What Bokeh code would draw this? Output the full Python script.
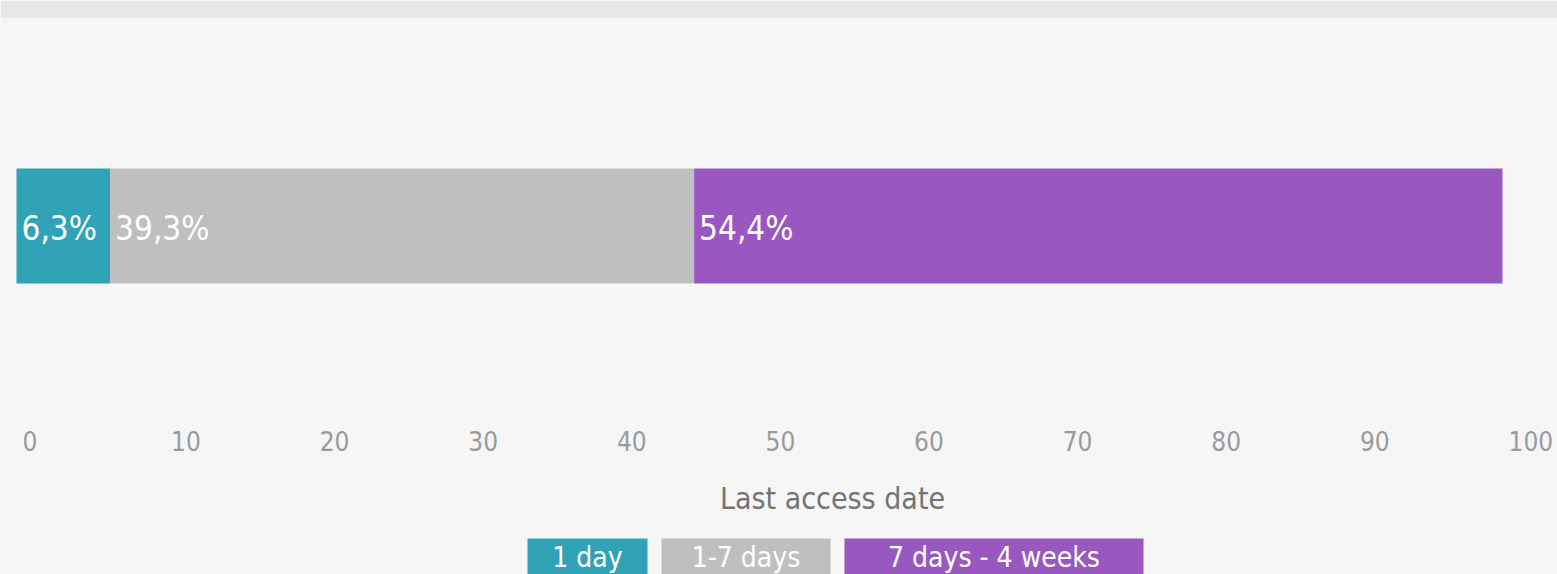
from bokeh.plotting import figure
from bokeh.models import Range1d, ColumnDataSource
from bokeh.core.properties import value
from bokeh.embed import file_html
from bokeh.resources import INLINE

# ---- data ----
categories = ["1 day", "1-7 days", "7 days - 4 weeks"]
shares = [6.3, 39.3, 54.4]
share_labels = ["6,3%", "39,3%", "54,4%"]
colors = ["#31a3b6", "#bfbfbf", "#9858bf"]
tick_values = [0, 10, 20, 30, 40, 50, 60, 70, 80, 90, 100]
tick_labels = ["0", "10", "20", "30", "40", "50", "60", "70", "80", "90", "100"]
axis_title = "Last access date"

# ---- layout ----
W, H = 1557, 574
TOP_BAND = 18
PX0, PX100 = 16.0, 1502.0           # pixel positions of 0 and 100
PPU = (PX100 - PX0) / 100.0
FONT = "DejaVu Sans Condensed, Open Sans"

def xd(px):
    return (px - PX0) / PPU

p = figure(width=W, height=H, output_backend="svg", toolbar_location=None,
           x_range=Range1d(xd(0), xd(W)), y_range=Range1d(H, TOP_BAND),
           min_border_left=0, min_border_right=0, min_border_bottom=0,
           min_border_top=TOP_BAND)
p.axis.visible = False
p.grid.visible = False
p.outline_line_color = None
p.background_fill_color = "#f6f6f6"
p.border_fill_color = "#e7e7e7"

lefts = []
acc = 0.0
for s in shares:
    lefts.append(acc)
    acc += s
rights = [l + s for l, s in zip(lefts, shares)]

src = ColumnDataSource(dict(left=lefts, right=rights, color=colors,
                            label=share_labels, cat=categories))
BAR_TOP, BAR_BOT = 168, 283
p.quad(left="left", right="right", top=BAR_TOP, bottom=BAR_BOT,
       fill_color="color", line_color=None, source=src)
p.text(x="left", y=(BAR_TOP + BAR_BOT) / 2 + 2, text="label", source=src,
       x_offset=5, text_align="left", text_baseline="middle",
       text_color="white", text_font=value(FONT), text_font_size="33px")

# tick labels (left aligned at tick positions)
p.text(x=tick_values, y=[440] * len(tick_values), text=tick_labels,
       x_offset=6, text_align="left", text_baseline="middle",
       text_color="#9a9a9a", text_font=value(FONT), text_font_size="26px")

# axis title
p.text(x=[xd(832)], y=[498], text=[axis_title], text_align="center",
       text_baseline="middle", text_color="#737373",
       text_font=value(FONT), text_font_size="30px")

# legend boxes
box_l = [xd(527), xd(661), xd(844)]
box_r = [xd(647), xd(830), xd(1143)]
lsrc = ColumnDataSource(dict(l=box_l, r=box_r, c=colors, t=categories,
                             m=[(a + b) / 2 for a, b in zip(box_l, box_r)]))
p.quad(left="l", right="r", top=538, bottom=600, fill_color="c",
       line_color=None, source=lsrc)
p.text(x="m", y=557, text="t", source=lsrc, text_align="center",
       text_baseline="middle", text_color="white",
       text_font=value(FONT), text_font_size="28px")

open("out.html", "w").write(file_html(p, INLINE))
